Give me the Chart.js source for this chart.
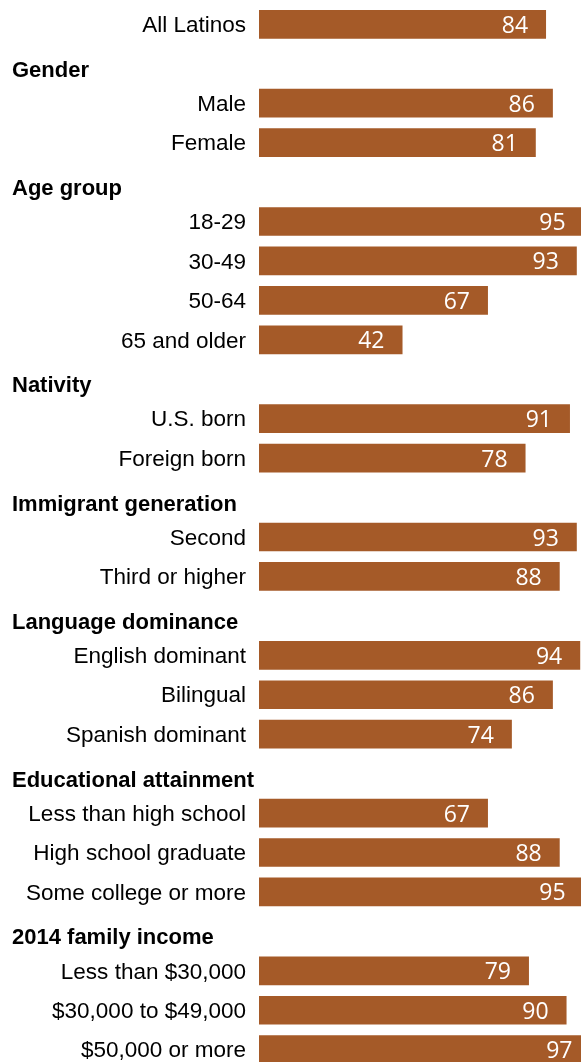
<!DOCTYPE html>
<html lang="en">
<head>
    <meta charset="UTF-8">
    <title>Latinos by group</title>
    <script src="https://cdn.jsdelivr.net/npm/chart.js"></script>
    <style>
        html, body { margin: 0; padding: 0; background: #fff; overflow: hidden; }
        #wrap { position: relative; width: 581px; height: 1072px; }
    </style>
</head>
<body>
    <div id="wrap"><canvas id="groupChart"></canvas></div>

    <script>
        // Section headings ('' = no heading for the first row)
        const groupTitles = ['', 'Gender', 'Age group', 'Nativity', 'Immigrant generation',
            'Language dominance', 'Educational attainment', '2014 family income'];

        // Row labels per section
        const groupLabels = [
            ['All Latinos'],
            ['Male', 'Female'],
            ['18-29', '30-49', '50-64', '65 and older'],
            ['U.S. born', 'Foreign born'],
            ['Second', 'Third or higher'],
            ['English dominant', 'Bilingual', 'Spanish dominant'],
            ['Less than high school', 'High school graduate', 'Some college or more'],
            ['Less than $30,000', '$30,000 to $49,000', '$50,000 or more']
        ];

        // Values per section
        const groupValues = [
            [84],
            [86, 81],
            [95, 93, 67, 42],
            [91, 78],
            [93, 88],
            [94, 86, 74],
            [67, 88, 95],
            [79, 90, 97]
        ];

        // Flatten into one category list; headings get an empty slot of their own
        const labels = [];
        const values = [];
        const headings = [];
        groupTitles.forEach((title, g) => {
            if (title) {
                headings.push({ index: labels.length, text: title });
                labels.push('');
                values.push(null);
            }
            groupLabels[g].forEach((lab, i) => {
                labels.push(lab);
                values.push(groupValues[g][i]);
            });
        });

        // Headings on the left and value numbers inside each bar end
        const textPlugin = {
            id: 'groupText',
            afterDatasetsDraw(chart) {
                const ctx = chart.ctx;
                const y = chart.scales.y;
                ctx.save();
                ctx.fillStyle = '#000';
                ctx.font = 'bold 22px "Liberation Sans", Arial, sans-serif';
                ctx.textAlign = 'left';
                ctx.textBaseline = 'middle';
                headings.forEach(h => {
                    ctx.fillText(h.text, 12, y.getPixelForValue(h.index) + 7);
                });

                ctx.fillStyle = '#fff';
                ctx.font = '23px "Open Sans", sans-serif';
                ctx.textAlign = 'right';
                ctx.textBaseline = 'alphabetic';
                chart.getDatasetMeta(0).data.forEach((bar, i) => {
                    if (values[i] == null) return;
                    ctx.fillText(String(values[i]), bar.x - 18, bar.y + 8.5);
                });
                ctx.restore();
            }
        };

        const ctx = document.getElementById('groupChart').getContext('2d');
        new Chart(ctx, {
            type: 'bar',
            data: {
                labels: labels,
                datasets: [{
                    data: values,
                    backgroundColor: '#a55a28',
                    borderWidth: 0,
                    categoryPercentage: 1,
                    barPercentage: 0.727
                }]
            },
            options: {
                indexAxis: 'y',
                responsive: true,
                maintainAspectRatio: false,
                animation: false,
                layout: { padding: { top: 4.6, bottom: 2.6, left: 0, right: 0 } },
                plugins: {
                    legend: { display: false },
                    tooltip: { enabled: false }
                },
                scales: {
                    x: {
                        display: false,
                        min: 0,
                        max: 94.23
                    },
                    y: {
                        grid: { display: false, drawTicks: false },
                        border: { display: false },
                        ticks: {
                            color: '#000',
                            padding: 13,
                            labelOffset: 1.5,
                            autoSkip: false,
                            font: { family: '"Liberation Sans", Arial, sans-serif', size: 22.5 }
                        },
                        afterFit(scale) {
                            // fixed label column, no extra room above/below the rows
                            scale.width = 259;
                            scale.paddingTop = 0;
                            scale.paddingBottom = 0;
                        }
                    }
                }
            },
            plugins: [textPlugin]
        });
    </script>
</body>
</html>
